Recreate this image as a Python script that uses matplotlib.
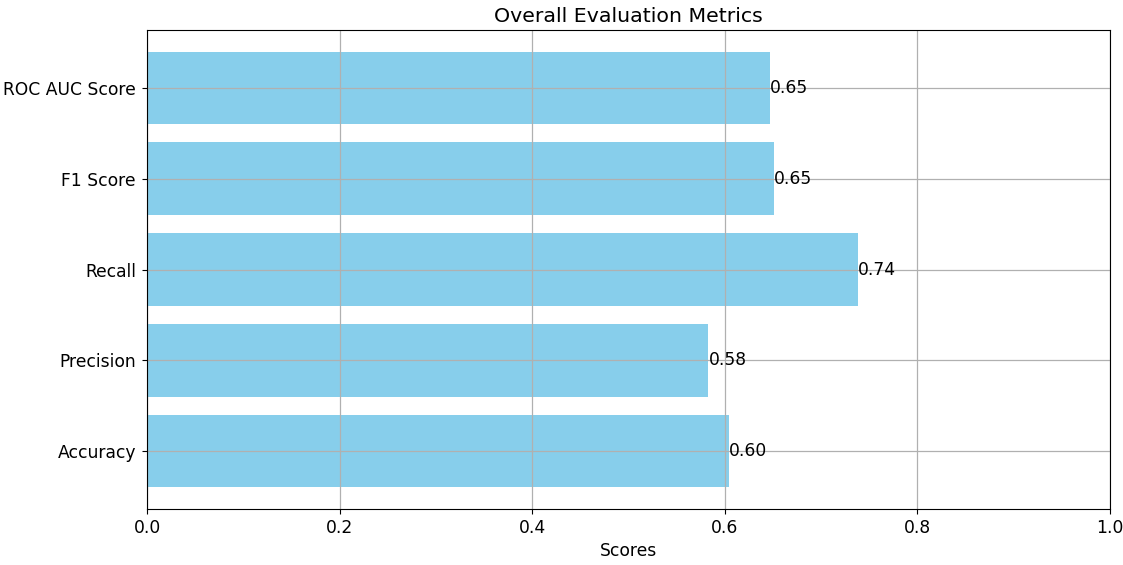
import matplotlib
matplotlib.use("Agg")
import matplotlib.pyplot as plt

metrics = ["Accuracy", "Precision", "Recall", "F1 Score", "ROC AUC Score"]
scores = [0.604, 0.583, 0.738, 0.651, 0.647]

plt.rcParams["font.size"] = 12.3
plt.rcParams["grid.linewidth"] = 0.9
plt.rcParams["ytick.major.pad"] = 4.5

fig = plt.figure(figsize=(11.23, 5.65), dpi=100)
ax = fig.add_axes([0.1309, 0.0991, 0.8575, 0.8478])

bars = ax.barh(metrics, scores, color="skyblue")
for bar, s in zip(bars, scores):
    ax.text(bar.get_width(), bar.get_y() + bar.get_height() / 2, f"{s:.2f}",
            va="center", ha="left")

ax.set_xlim(0, 1)
ax.set_xlabel("Scores")
ax.set_title("Overall Evaluation Metrics")
ax.grid(True)

plt.savefig("out.png")
